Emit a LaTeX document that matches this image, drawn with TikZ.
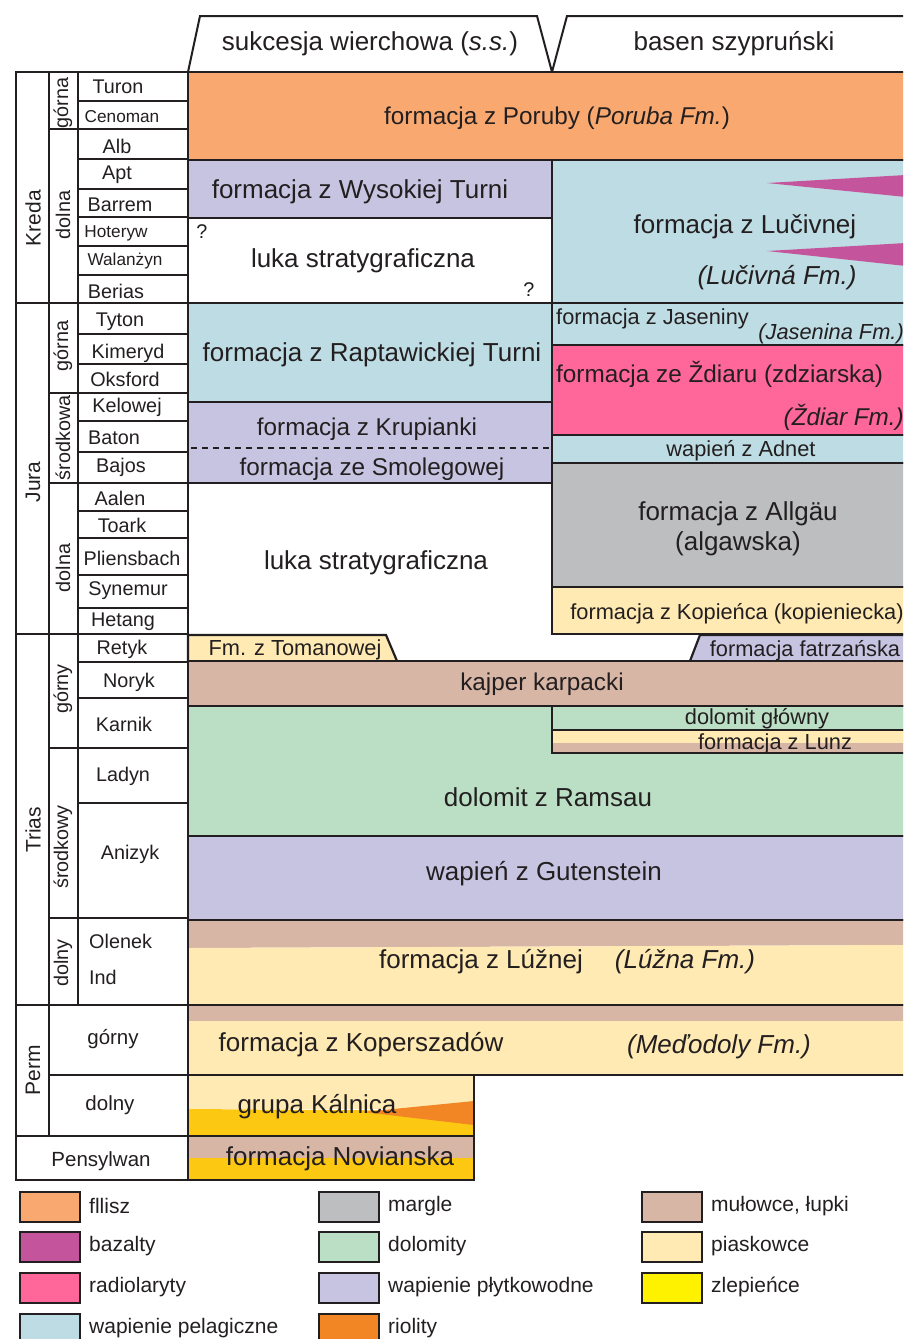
\documentclass[tikz,border=0pt]{standalone}
\usepackage{fontspec}
\setmainfont{Liberation Sans}
\definecolor{ink}{HTML}{231F20}
\definecolor{flisz}{HTML}{F9A870}
\definecolor{bazalt}{HTML}{C4559D}
\definecolor{radiol}{HTML}{FF6699}
\definecolor{pelag}{HTML}{BEDCE3}
\definecolor{margle}{HTML}{BCBEC0}
\definecolor{dolom}{HTML}{BBDFC5}
\definecolor{plytk}{HTML}{C7C4E1}
\definecolor{riol}{HTML}{F28524}
\definecolor{mulow}{HTML}{D8B6A6}
\definecolor{piask}{HTML}{FFEAB3}
\definecolor{zlep}{HTML}{FFF200}
\definecolor{zlepcol}{HTML}{FCC812}
\newcommand\fsz[1]{\fontsize{#1pt}{#1pt}\selectfont}
\begin{document}
\begin{tikzpicture}[x=1pt,y=-1pt,
  frame/.style={draw=ink,line width=2.2pt},
  tabline/.style={draw=ink,line width=2pt},
  lbl/.style={inner sep=0pt,text=ink,font=\fsz{26},yshift=-2pt},
  lblm/.style={inner sep=0pt,text=ink,font=\fsz{24.3},yshift=-2pt},
  lbls/.style={inner sep=0pt,text=ink,font=\fsz{21.8},yshift=-1.5pt},
  stg/.style={inner sep=0pt,text=ink,font=\fsz{19.8},yshift=-1pt},
  stgs/.style={inner sep=0pt,text=ink,font=\fsz{17.2},yshift=-1pt},
  ep/.style={inner sep=0pt,text=ink,font=\fsz{19.8},rotate=90},
  per/.style={inner sep=0pt,text=ink,font=\fsz{21},rotate=90},
  leg/.style={inner sep=0pt,text=ink,font=\fsz{21},anchor=west},
  legbox/.style={draw=ink,line width=1.2pt}
]
\useasboundingbox (0,0) rectangle (903,1339);
\clip (0,0) rectangle (903,1339);

% column headers
\path[tabline,fill=white] (188,72) -- (200,16) -- (537,16) -- (552,72);
\path[tabline] (552,72) -- (567,16) -- (906,16);
\node[lbl] (hdrW) at (370,42) {sukcesja wierchowa (\textit{s.s.})};
\node[lbl] (hdrS) at (734,42) {basen szypruński};

% ---- Cretaceous
\path[frame,fill=flisz] (188,72) rectangle (906,160);
\node[lblm] (poruby) at (557,116) {formacja z Poruby (\textit{Poruba Fm.})};
\path[frame,fill=plytk] (188,160) rectangle (552,218);
\node[lbl] (wysokiej) at (360,190) {formacja z Wysokiej Turni};
\path[frame,fill=white] (188,218) rectangle (552,303);
\node[lbl] (lukaK) at (363,259) {luka stratygraficzna};
\node[stg] (q1) at (202,231) {?};
\node[stg] (q2) at (529,289) {?};
\fill[pelag] (552,160) rectangle (906,303);
\fill[bazalt] (767,183) -- (906,175) -- (906,197) -- cycle;
\fill[bazalt] (767,251) -- (906,243) -- (906,266) -- cycle;
\path[frame] (552,160) rectangle (906,303);
\node[lbl] (lucivnej) at (745,225) {formacja z Lučivnej};
\node[lbl] (lucivna) at (777,276) {\itshape (Lučivná Fm.)};

% ---- Jurassic
\path[frame,fill=pelag] (188,303) rectangle (552,402);
\node[lbl] (raptaw) at (372,353) {formacja z Raptawickiej Turni};
\path[frame,fill=plytk] (188,402) rectangle (552,483);
\draw[ink,line width=1.2pt,dash pattern=on 6pt off 5pt] (191,448) -- (550,448);
\node[lblm] (krupianki) at (367,427) {formacja z Krupianki};
\node[lblm] (smoleg) at (372,467) {formacja ze Smolegowej};
\node[lbl] (lukaJ) at (376,561) {luka stratygraficzna};

\path[frame,fill=pelag] (552,303) rectangle (906,345);
\node[lbls,anchor=west] (jasen) at (556,317) {formacja z Jaseniny};
\node[lbls,anchor=east] (jasenFm) at (904,332) {\itshape (Jasenina Fm.)};
\path[frame,fill=radiol] (552,345) rectangle (906,435);
\node[lblm,anchor=west] (zdiar) at (556,372) {formacja ze Ždiaru (zdziarska)};
\node[lblm,anchor=east] (zdiarFm) at (904,415) {\itshape (Ždiar Fm.)};
\path[frame,fill=pelag] (552,435) rectangle (906,463);
\node[lbls] (adnet) at (741,449) {wapień z Adnet};
\path[frame,fill=margle] (552,463) rectangle (906,587);
\node[lbl] (allgau) at (738,512) {formacja z Allgäu};
\node[lbl] (algaw) at (738,542) {(algawska)};
\path[frame,fill=piask] (552,587) rectangle (906,634);
\node[lbls] (kopienca) at (737,612) {formacja z Kopieńca (kopieniecka)};

% ---- Triassic
\path[frame,fill=piask] (188,661) -- (188,635) -- (386,635) -- (397,661);
\node[lbls] (tomanowa) at (295,648) {Fm. z Tomanowej};
\path[frame,fill=plytk] (690,661) -- (700,635) -- (906,635) -- (906,661);
\node[lbls] (fatra) at (805,649) {formacja fatrzańska};
\path[frame,fill=mulow] (188,661) rectangle (906,706);
\node[lblm] (kajper) at (542,682) {kajper karpacki};
\path[frame,fill=dolom] (188,706) rectangle (906,836);
\node[lbl] (ramsau) at (548,795) {dolomit z Ramsau};
\path[frame,fill=dolom] (552,706) rectangle (906,730);
\node[lbls] (glowny) at (757,717) {dolomit główny};
\fill[piask] (552,730) rectangle (906,743);
\fill[mulow] (552,743) rectangle (906,753);
\path[frame] (552,730) rectangle (906,753);
\node[lbls] (lunz) at (775,742) {formacja z Lunz};
\path[frame,fill=plytk] (188,836) rectangle (906,920);
\node[lbl] (guten) at (544,872) {wapień z Gutenstein};
\fill[mulow] (188,920) -- (906,920) -- (906,945) -- (188,948) -- cycle;
\fill[piask] (188,948) -- (906,945) -- (906,1005) -- (188,1005) -- cycle;
\path[frame] (188,920) rectangle (906,1005);
\node[lbl] (luzna) at (481,960) {formacja z Lúžnej};
\node[lbl] (luznaFm) at (685,960) {\itshape (Lúžna Fm.)};

% ---- Permian and Pennsylvanian
\fill[mulow] (188,1005) rectangle (906,1021);
\fill[piask] (188,1021) rectangle (906,1075);
\path[frame] (188,1005) rectangle (906,1075);
\node[lbl] (kopersz) at (361,1043) {formacja z Koperszadów};
\node[lbl] (medodoly) at (719,1045) {\itshape (Meďodoly Fm.)};
\fill[piask] (188,1075) rectangle (474,1109);
\fill[zlepcol] (188,1109) -- (474,1111) -- (474,1136) -- (188,1136) -- cycle;
\fill[riol] (363,1112) -- (474,1101) -- (474,1125) -- cycle;
\path[frame] (188,1075) rectangle (474,1136);
\node[lbl] (kalnica) at (317,1105) {grupa Kálnica};
\fill[mulow] (188,1136) rectangle (474,1158);
\fill[zlepcol] (188,1158) rectangle (474,1180);
\path[frame] (188,1136) rectangle (474,1180);
\node[lbl] (novian) at (340,1157) {formacja Novianska};

% ---- stratigraphic table
\foreach \a/\b in {72/101,101/129,129/159,159/189,189/217,217/246,246/275,275/303,
  303/334,334/364,364/393,393/421,421/452,452/483,483/511,511/538,538/575,575/608,608/634,
  634/662,662/698,698/748,748/803,803/918,918/1005}
  \path[frame] (78,\a) rectangle (188,\b);
\foreach \a/\b in {72/129,129/303,303/393,393/483,483/634,634/748,748/918,918/1005}
  \path[frame] (49,\a) rectangle (78,\b);
\foreach \a/\b in {72/303,303/634,634/1005,1005/1136}
  \path[frame] (16,\a) rectangle (49,\b);
\path[frame] (49,1005) rectangle (188,1075);
\path[frame] (49,1075) rectangle (188,1136);
\path[frame] (16,1136) rectangle (188,1180);

% periods
\node[per] (kreda) at (33,218) {Kreda};
\node[per] (jura) at (33,482) {Jura};
\node[per] (trias) at (33,830) {Trias};
\node[per] (perm) at (33,1070) {Perm};
% epochs
\node[ep] (kGorna) at (63,103) {górna};
\node[ep] (kDolna) at (63,215) {dolna};
\node[ep] (jGorna) at (63,346) {górna};
\node[ep] (jSrod) at (63,438) {środkowa};
\node[ep] (jDolna) at (63,568) {dolna};
\node[ep] (tGorny) at (63,689) {górny};
\node[ep] (tSrod) at (63,847) {środkowy};
\node[ep] (tDolny) at (63,963) {dolny};
\node[stg,font=\fsz{20.5}] (pGorny) at (113,1038) {górny};
\node[stg,font=\fsz{20.5}] (pDolny) at (110,1104) {dolny};
\node[stg,font=\fsz{20.5}] (pensyl) at (101,1160) {Pensylwan};
% stages
\node[stg] (turon) at (118,86) {Turon};
\node[stgs] (cenoman) at (122,116) {Cenoman};
\node[stg] (alb) at (117,145) {Alb};
\node[stg] (apt) at (117,174) {Apt};
\node[stg] (barrem) at (120,204) {Barrem};
\node[stgs] (hoteryw) at (116,232) {Hoteryw};
\node[stgs] (walanzyn) at (125,260) {Walanżyn};
\node[stg] (berias) at (116,290) {Berias};
\node[stg] (tyton) at (120,321) {Tyton};
\node[stg] (kimeryd) at (128,352) {Kimeryd};
\node[stg] (oksford) at (125,378) {Oksford};
\node[stg] (kelowej) at (127,406) {Kelowej};
\node[stg] (baton) at (114,437) {Baton};
\node[stg] (bajos) at (121,466) {Bajos};
\node[stg] (aalen) at (120,497) {Aalen};
\node[stg] (toark) at (122,524) {Toark};
\node[stg] (pliens) at (132,557) {Pliensbach};
\node[stg] (synemur) at (128,590) {Synemur};
\node[stg] (hetang) at (123,621) {Hetang};
\node[stg] (retyk) at (122,648) {Retyk};
\node[stg] (noryk) at (129,681) {Noryk};
\node[stg] (karnik) at (124,723) {Karnik};
\node[stg] (ladyn) at (123,775) {Ladyn};
\node[stg] (anizyk) at (130,853) {Anizyk};
\node[stg,anchor=west] (olenek) at (89,940) {Olenek};
\node[stg,anchor=west] (ind) at (89,976) {Ind};

% ---- legend
\foreach \x/\y/\c/\t [count=\i] in {
  20/1192/flisz/fllisz, 20/1232/bazalt/bazalty, 20/1273/radiol/radiolaryty,
  20/1314/pelag/wapienie pelagiczne,
  319/1192/margle/margle, 319/1232/dolom/dolomity, 319/1273/plytk/wapienie płytkowodne,
  319/1314/riol/riolity,
  642/1192/mulow/{mułowce, łupki}, 642/1232/piask/piaskowce, 642/1273/zlep/zlepieńce}
{
  \path[legbox,fill=\c] (\x,\y) rectangle ++(60,30);
  \node[leg] (legend\i) at (\x+69,\y+14) {\t};
}
\end{tikzpicture}
\end{document}
